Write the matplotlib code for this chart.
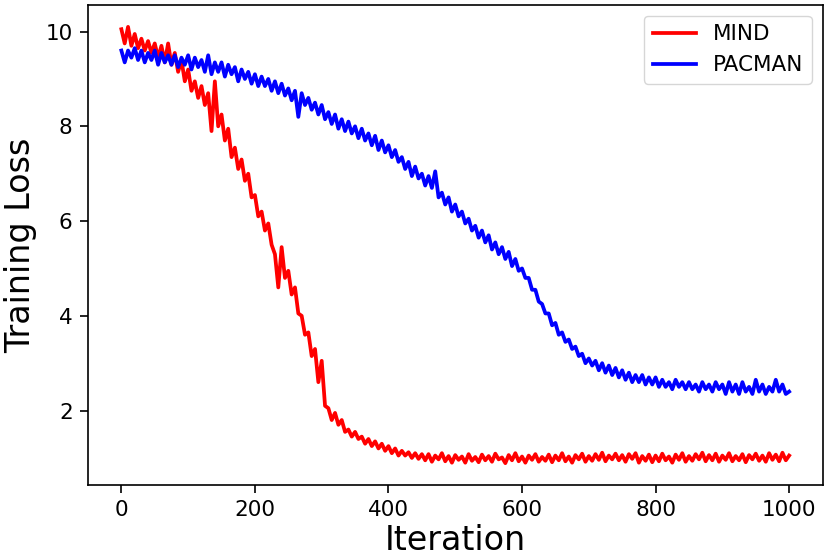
import numpy as np
import matplotlib
matplotlib.use('Agg')
import matplotlib.pyplot as plt

iteration = np.arange(0, 1001, 5)

mind_loss = [
    10.05, 9.75, 10.1, 9.7, 9.95, 9.65, 9.85, 9.6, 9.8, 9.55,
    9.75, 9.45, 9.7, 9.35, 9.75, 9.3, 9.55, 9.15, 9.4, 8.95,
    9.2, 8.75, 8.95, 8.6, 8.85, 8.45, 8.7, 7.9, 8.95, 8.0,
    8.25, 7.7, 7.95, 7.35, 7.55, 7.1, 7.3, 6.85, 7.0, 6.5,
    6.55, 6.1, 6.2, 5.8, 5.95, 5.5, 5.3, 4.6, 5.45, 4.8,
    4.95, 4.45, 4.6, 4.05, 4.0, 3.6, 3.65, 3.15, 3.3, 2.6,
    3.05, 2.1, 2.05, 1.8, 1.95, 1.7, 1.8, 1.55, 1.6, 1.45,
    1.55, 1.4, 1.45, 1.3, 1.4, 1.25, 1.35, 1.2, 1.3, 1.15,
    1.25, 1.1, 1.2, 1.05, 1.15, 1.05, 1.12, 1.0, 1.1, 0.98,
    1.08, 0.95, 1.08, 0.92, 1.05, 0.97, 1.1, 0.93, 1.04, 0.9,
    1.06, 0.96, 1.03, 0.9, 1.08, 0.94, 1.02, 0.91, 1.07, 0.95,
    1.04, 0.92, 1.09, 0.97, 1.01, 0.89, 1.06, 0.95, 1.1, 0.93,
    1.03, 0.9, 1.05, 0.96, 1.08, 0.92, 1.02, 0.94, 1.07, 0.91,
    1.05, 0.95, 1.1, 0.93, 1.03, 0.9, 1.06, 0.97, 1.09, 0.92,
    1.04, 0.94, 1.08, 0.96, 1.11, 0.93, 1.05, 0.97, 1.09, 0.95,
    1.06, 0.92, 1.08, 0.98, 1.1, 0.9, 1.04, 0.94, 1.07, 0.91,
    1.05, 0.93, 1.09, 0.95, 1.03, 0.9, 1.07, 0.96, 1.1, 0.92,
    1.04, 0.94, 1.08, 0.97, 1.11, 0.93, 1.06, 0.95, 1.09, 0.92,
    1.05, 0.96, 1.1, 0.93, 1.04, 0.95, 1.08, 0.91, 1.06, 0.97,
    1.09, 0.94, 1.05, 0.92, 1.1, 0.96, 1.07, 0.93, 1.11, 0.95,
    1.05,
]

pacman_loss = [
    9.6, 9.35, 9.6, 9.45, 9.65, 9.4, 9.6, 9.35, 9.55, 9.4,
    9.6, 9.3, 9.55, 9.35, 9.5, 9.3, 9.5, 9.25, 9.45, 9.3,
    9.5, 9.2, 9.45, 9.25, 9.4, 9.15, 9.5, 9.1, 9.35, 9.15,
    9.35, 9.05, 9.3, 9.1, 9.25, 8.95, 9.2, 9.0, 9.15, 8.9,
    9.1, 8.85, 9.05, 8.85, 9.0, 8.75, 8.95, 8.7, 8.9, 8.65,
    8.8, 8.55, 8.75, 8.2, 8.7, 8.45, 8.6, 8.35, 8.5, 8.25,
    8.45, 8.15, 8.3, 8.05, 8.25, 7.95, 8.15, 7.9, 8.1, 7.85,
    8.0, 7.75, 7.95, 7.7, 7.85, 7.6, 7.8, 7.5, 7.7, 7.45,
    7.6, 7.35, 7.5, 7.25, 7.35, 7.1, 7.25, 6.95, 7.15, 6.9,
    7.0, 6.75, 6.95, 6.7, 7.05, 6.5, 6.6, 6.35, 6.5, 6.2,
    6.35, 6.1, 6.2, 5.95, 6.05, 5.8, 5.9, 5.65, 5.8, 5.55,
    5.7, 5.4, 5.55, 5.3, 5.45, 5.2, 5.35, 5.05, 5.2, 4.95,
    5.0, 4.8, 4.8, 4.55, 4.55, 4.3, 4.25, 4.05, 4.05, 3.8,
    3.85, 3.6, 3.65, 3.45, 3.5, 3.3, 3.35, 3.15, 3.2, 3.0,
    3.1, 2.95, 3.05, 2.85, 3.0, 2.8, 2.95, 2.75, 2.9, 2.7,
    2.85, 2.65, 2.8, 2.6, 2.75, 2.6, 2.75, 2.55, 2.7, 2.55,
    2.7, 2.5, 2.65, 2.5, 2.6, 2.45, 2.65, 2.5, 2.6, 2.45,
    2.6, 2.45, 2.55, 2.4, 2.6, 2.45, 2.55, 2.4, 2.6, 2.45,
    2.55, 2.35, 2.6, 2.4, 2.55, 2.35, 2.6, 2.4, 2.5, 2.35,
    2.65, 2.4, 2.55, 2.35, 2.5, 2.4, 2.65, 2.4, 2.55, 2.35,
    2.4,
]

fig = plt.figure(figsize=(8.3, 5.6), dpi=100)
ax = fig.add_axes([0.106, 0.134, 0.885, 0.857])

ax.plot(iteration, mind_loss, color='r', lw=2.7, label='MIND')
ax.plot(iteration, pacman_loss, color='b', lw=2.7, label='PACMAN')

ax.set_xlabel('Iteration', fontsize=24, labelpad=3)
ax.set_ylabel('Training Loss', fontsize=24, labelpad=6)
ax.tick_params(labelsize=15.5, length=5.5, width=1.2, pad=5.5)
for sp in ax.spines.values():
    sp.set_linewidth(1.2)
ax.legend(loc='upper right', fontsize=15.5)

fig.savefig('out.png', dpi=100)
